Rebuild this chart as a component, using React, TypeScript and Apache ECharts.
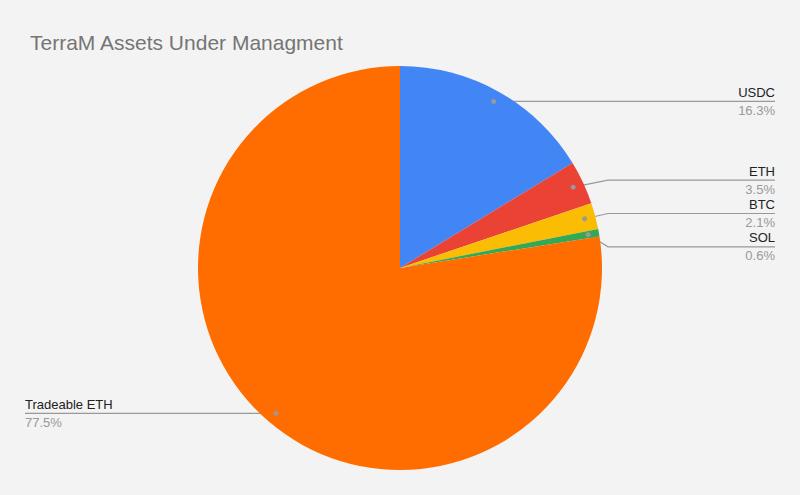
import React, { useEffect, useRef } from "react";
import * as echarts from "echarts";

const NAMES = ["USDC", "ETH", "BTC", "SOL", "Tradeable ETH"];
const VALUES = [16.3, 3.5, 2.1, 0.6, 77.5];
const COLORS = ["#4285f4", "#ea4335", "#fbbc04", "#34a853", "#ff6d01"];
const TITLE = "TerraM Assets Under Managment";

const W = 800;
const H = 495;
const CX = 400;
const CY = 268;
const R = 202;
const ANCHOR_RATIO = 0.946;
const EDGE = 25;
const GAP = 33.3;
const FONT = "Arial, 'Liberation Sans', sans-serif";

type Info = { ax: number; ay: number; side: "left" | "right"; lineY: number };

function computeLayout(): Info[] {
  const total = VALUES.reduce((a, b) => a + b, 0);
  let cum = 0;
  const infos: Info[] = VALUES.map((v) => {
    const mid = ((cum + v / 2) / total) * Math.PI * 2;
    cum += v;
    const ax = CX + R * ANCHOR_RATIO * Math.sin(mid);
    const ay = CY - R * ANCHOR_RATIO * Math.cos(mid);
    return { ax, ay, side: Math.sin(mid) >= 0 ? "right" : "left", lineY: ay };
  });
  (["left", "right"] as const).forEach((side) => {
    const items = infos.filter((i) => i.side === side).sort((a, b) => a.ay - b.ay);
    let clusters = items.map((it) => ({ items: [it], start: it.ay }));
    let merged = true;
    while (merged) {
      merged = false;
      for (let k = 0; k < clusters.length - 1; k++) {
        const a = clusters[k];
        const b = clusters[k + 1];
        if (b.start < a.start + a.items.length * GAP) {
          const all = a.items.concat(b.items);
          const start = all.reduce((s, it, i) => s + (it.ay - i * GAP), 0) / all.length;
          clusters.splice(k, 2, { items: all, start });
          merged = true;
          break;
        }
      }
    }
    clusters.forEach((c) => c.items.forEach((it, i) => (it.lineY = c.start + i * GAP)));
  });
  return infos;
}

export default function App() {
  const ref = useRef<HTMLDivElement>(null);
  useEffect(() => {
    document.body.style.margin = "0";
    if (!ref.current) return;
    const chart = echarts.init(ref.current, undefined, { renderer: "svg" });
    const infos = computeLayout();
    const option: any = {
      animation: false,
      backgroundColor: "#f3f3f3",
      title: {
        text: TITLE,
        left: 25,
        top: 27,
        textStyle: { fontSize: 21, color: "#757575", fontWeight: "normal", fontFamily: FONT },
      },
      graphic: infos.map((i) => ({
        type: "circle",
        z: 100,
        silent: true,
        shape: { cx: i.ax, cy: i.ay, r: 2.5 },
        style: { fill: "#999999" },
      })),
      series: [
        {
          type: "pie",
          center: [CX, CY],
          radius: [0, R],
          startAngle: 90,
          clockwise: true,
          avoidLabelOverlap: false,
          percentPrecision: 1,
          emphasis: { disabled: true },
          label: {
            show: true,
            position: "outside",
            formatter: "{n|{b}}\n{p|{d}%}",
            rich: {
              n: { fontSize: 13, lineHeight: 18, color: "#222222", fontFamily: FONT },
              p: { fontSize: 13, lineHeight: 18, color: "#999999", fontFamily: FONT },
            },
          },
          labelLine: { show: true, lineStyle: { color: "#999999", width: 1.2 } },
          labelLayout: (params: any) => {
            const i = infos[params.dataIndex];
            const right = i.side === "right";
            const endX = right ? W - EDGE : EDGE;
            const elbowX = right ? CX + R + 6 : CX - R - 6;
            return {
              x: endX,
              y: i.lineY,
              align: right ? "right" : "left",
              verticalAlign: "middle",
              labelLinePoints: [
                [i.ax, i.ay],
                [elbowX, i.lineY],
                [endX, i.lineY],
              ],
            };
          },
          data: NAMES.map((n, k) => ({ name: n, value: VALUES[k], itemStyle: { color: COLORS[k] } })),
        },
      ],
    };
    chart.setOption(option);
    return () => chart.dispose();
  }, []);
  return <div ref={ref} style={{ width: W, height: H }} />;
}
